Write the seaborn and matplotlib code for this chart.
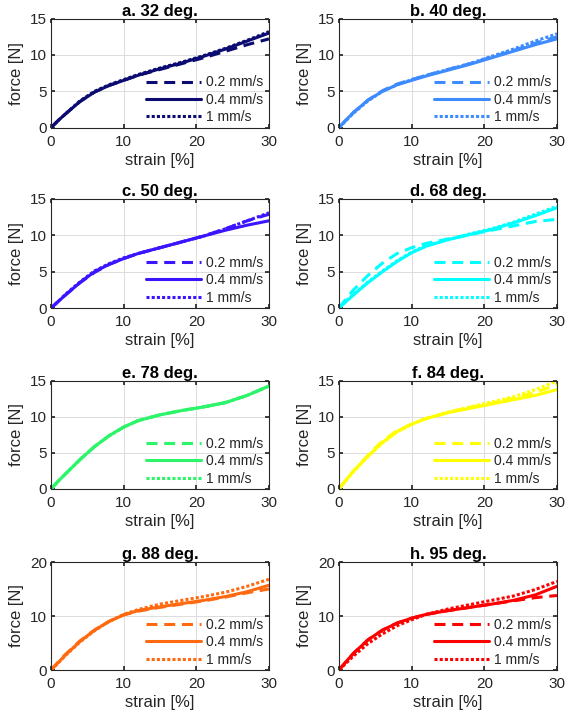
import matplotlib
matplotlib.use("Agg")
import matplotlib.pyplot as plt
import seaborn as sns
import pandas as pd

sns.set_theme(style="white")
plt.rcParams['font.family'] = ['Liberation Sans', 'DejaVu Sans']

strain = [0, 1, 2, 4, 6, 8, 10, 12, 15, 18, 21, 24, 27, 30]
speeds = ["0.2 mm/s", "0.4 mm/s", "1 mm/s"]
titles = ["a. 32 deg.", "b. 40 deg.", "c. 50 deg.", "d. 68 deg.",
          "e. 78 deg.", "f. 84 deg.", "g. 88 deg.", "h. 95 deg."]
colors = ["#0b0b72", "#3d8bff", "#3c14ff", "#00ffff",
          "#2cf56a", "#ffff00", "#ff6a10", "#ff0000"]
ymax = [15, 15, 15, 15, 15, 15, 20, 20]
ystep = [5, 5, 5, 5, 5, 5, 10, 10]

a_02 = [0, 1.0, 1.9, 3.6, 4.9, 5.8, 6.5, 7.2, 8.0, 8.8, 9.6, 10.5, 11.4, 12.2]
a_04 = [0, 1.0, 1.9, 3.6, 4.9, 5.8, 6.5, 7.2, 8.1, 8.9, 9.8, 10.8, 11.9, 13.0]
a_1 = [0, 1.0, 1.9, 3.7, 5.0, 5.9, 6.6, 7.3, 8.2, 9.0, 9.9, 10.9, 12.0, 13.2]

b_02 = [0, 1.1, 2.1, 3.8, 5.1, 6.0, 6.6, 7.2, 8.0, 8.8, 9.7, 10.6, 11.6, 12.5]
b_04 = [0, 1.1, 2.1, 3.8, 5.0, 5.9, 6.5, 7.1, 7.9, 8.7, 9.6, 10.5, 11.4, 12.2]
b_1 = [0, 1.0, 2.0, 3.7, 5.0, 5.9, 6.6, 7.2, 8.0, 8.8, 9.8, 10.8, 11.9, 12.9]

c_02 = [0, 0.9, 1.8, 3.5, 4.9, 6.0, 6.8, 7.5, 8.3, 9.1, 9.9, 10.9, 12.0, 12.9]
c_04 = [0, 0.9, 1.8, 3.5, 5.0, 6.0, 6.8, 7.5, 8.3, 9.1, 9.9, 10.7, 11.4, 12.0]
c_1 = [0, 0.9, 1.9, 3.6, 5.1, 6.1, 6.9, 7.5, 8.3, 9.1, 9.9, 10.9, 12.0, 13.1]

d_02 = [0, 1.3, 2.5, 4.5, 6.2, 7.5, 8.3, 8.9, 9.5, 10.1, 10.7, 11.3, 11.9, 12.2]
d_04 = [0, 0.9, 1.8, 3.5, 5.0, 6.4, 7.6, 8.5, 9.4, 10.1, 10.8, 11.7, 12.7, 13.8]
d_1 = [0, 1.0, 1.9, 3.6, 5.1, 6.5, 7.7, 8.6, 9.4, 10.2, 10.9, 11.8, 12.9, 14.0]

e_02 = [0, 1.1, 2.1, 4.1, 5.9, 7.4, 8.6, 9.5, 10.3, 10.9, 11.4, 12.0, 13.0, 14.3]
e_04 = [0, 1.1, 2.1, 4.1, 5.9, 7.4, 8.6, 9.5, 10.3, 10.9, 11.4, 12.0, 13.0, 14.3]
e_1 = [0, 1.1, 2.1, 4.1, 5.9, 7.4, 8.6, 9.5, 10.3, 10.9, 11.4, 12.0, 13.0, 14.3]

f_02 = [0, 1.3, 2.5, 4.7, 6.7, 8.1, 9.0, 9.8, 10.6, 11.3, 11.9, 12.6, 13.4, 14.5]
f_04 = [0, 1.3, 2.5, 4.6, 6.5, 8.0, 9.0, 9.8, 10.6, 11.2, 11.8, 12.4, 13.0, 13.8]
f_1 = [0, 1.2, 2.4, 4.5, 6.4, 7.9, 9.0, 9.8, 10.7, 11.4, 12.1, 12.8, 13.8, 15.0]

g_02 = [0, 1.5, 2.9, 5.4, 7.4, 9.0, 10.2, 10.9, 11.6, 12.2, 12.8, 13.5, 14.3, 15.0]
g_04 = [0, 1.4, 2.8, 5.3, 7.4, 9.0, 10.2, 11.0, 11.7, 12.3, 12.9, 13.6, 14.5, 15.7]
g_1 = [0, 1.3, 2.7, 5.2, 7.3, 9.0, 10.3, 11.2, 12.2, 12.9, 13.6, 14.4, 15.5, 16.8]

h_02 = [0, 1.6, 3.1, 5.6, 7.4, 8.7, 9.6, 10.3, 11.0, 11.6, 12.2, 12.8, 13.4, 13.8]
h_04 = [0, 1.6, 3.1, 5.6, 7.4, 8.7, 9.6, 10.3, 11.0, 11.6, 12.2, 12.9, 13.9, 15.5]
h_1 = [0, 1.3, 2.6, 4.9, 6.7, 8.2, 9.3, 10.3, 11.3, 12.1, 12.9, 13.7, 14.9, 16.4]

panels = [(a_02, a_04, a_1), (b_02, b_04, b_1), (c_02, c_04, c_1), (d_02, d_04, d_1),
          (e_02, e_04, e_1), (f_02, f_04, f_1), (g_02, g_04, g_1), (h_02, h_04, h_1)]

styles = [(0, (3.6, 2.2)), "-", (0, (1.0, 0.7))]

fig = plt.figure(figsize=(5.68, 7.19), dpi=100)
lefts = [51 / 568, 339 / 568]
tops = [18.5, 199, 381, 562]
bottoms = [127.7, 308, 489, 670]

for i, (title, col, series) in enumerate(zip(titles, colors, panels)):
    r, c = divmod(i, 2)
    ax = fig.add_axes([lefts[c], 1 - bottoms[r] / 719, 218 / 568,
                       (bottoms[r] - tops[r]) / 719])
    handles = []
    for sp, vals, ls in zip(speeds, series, styles):
        df = pd.DataFrame({"strain": strain, "force": vals})
        sns.lineplot(data=df, x="strain", y="force", ax=ax, color=col,
                     linewidth=2.2, legend=False, sort=False)
        ln = ax.lines[-1]
        ln.set_linestyle(ls)
        ln.set_label(sp)
        handles.append(ln)
    ax.set_xlim(0, 30)
    ax.set_ylim(0, ymax[i])
    ax.set_xticks([0, 10, 20, 30])
    ax.set_yticks(list(range(0, ymax[i] + 1, ystep[i])))
    ax.grid(True, color="#dcdcdc", linewidth=0.7)
    ax.tick_params(direction="in", length=3, labelsize=11, colors="#262626",
                   top=True, right=True, bottom=True, left=True)
    ax.tick_params(axis="x", pad=5)
    ax.tick_params(axis="y", pad=3)
    for s in ax.spines.values():
        s.set_color("#262626")
        s.set_linewidth(0.8)
    ax.set_xlabel("strain [%]", fontsize=12, color="#262626", labelpad=3)
    ax.set_ylabel("force [N]", fontsize=12, color="#262626", labelpad=4)
    ax.set_title(title, fontsize=12, fontweight="bold", color="black", pad=2)
    ax.legend(handles=handles, labels=speeds, loc="lower right", frameon=False,
              fontsize=10, handlelength=4.0, handletextpad=0.35,
              labelspacing=0.25, borderaxespad=0.0,
              bbox_to_anchor=(1.0, -0.02))

fig.savefig("out.png", dpi=100)
